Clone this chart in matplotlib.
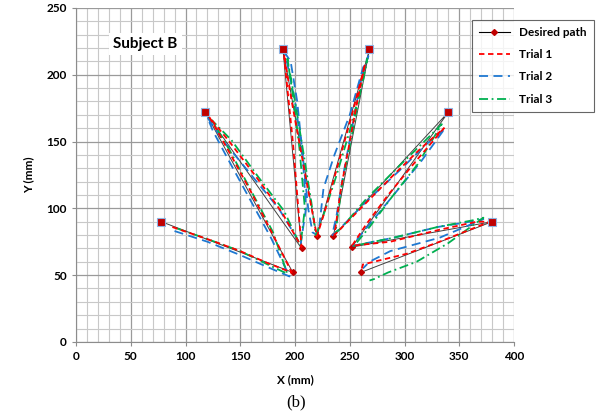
import matplotlib
matplotlib.use("Agg")
import matplotlib.pyplot as plt
from matplotlib.ticker import MultipleLocator
from matplotlib.lines import Line2D

plt.rcParams["font.family"] = ["Lato", "DejaVu Sans"]

# desired zig-zag path: outer targets and inner points
desired_x = [78, 198, 118, 206, 189, 220, 268, 235, 340, 252, 380, 260]
desired_y = [90, 52, 172, 70, 219, 79, 219, 79, 172, 71, 90, 52]
target_x = [78, 118, 189, 268, 340, 380]
target_y = [90, 172, 219, 219, 172, 90]

trial1_x = [88, 120, 150, 175, 197, 180, 160, 140, 122, 140, 165, 188, 206,
            203, 198, 193, 190, 197, 206, 214, 220, 228, 240, 252, 264,
            258, 250, 242, 236, 260, 290, 315, 336, 310, 285, 265, 252,
            287, 332, 366, 378, 332, 302, 272, 262, 261]
trial1_y = [86, 77, 68, 59, 52, 80, 112, 142, 168, 150, 123, 97, 71,
            100, 150, 190, 215, 180, 140, 105, 79, 100, 135, 170, 208,
            185, 150, 115, 80, 100, 125, 145, 160, 135, 110, 88, 72,
            75, 84, 90, 90, 75, 66, 60, 58, 55]

trial2_x = [90, 120, 150, 175, 195, 178, 158, 138, 125, 120, 135, 160, 185, 200, 205,
            210, 207, 202, 196, 191, 200, 207, 212, 216, 220, 222, 226, 236, 250, 262, 267,
            260, 252, 244, 238, 234, 240, 265, 295, 320, 337, 315, 290, 270, 255,
            253, 290, 330, 360, 372, 332, 287, 268, 262]
trial2_y = [83, 75, 65, 56, 49, 78, 108, 138, 158, 168, 150, 125, 100, 80, 72,
            100, 140, 180, 210, 216, 180, 140, 100, 82, 80, 85, 115, 140, 170, 205, 214,
            195, 160, 125, 95, 80, 84, 105, 128, 148, 160, 135, 110, 90, 75,
            72, 78, 86, 90, 92, 78, 68, 60, 55]

trial3_x = [92, 120, 150, 175, 193, 180, 160, 140, 124, 142, 166, 190, 205,
            209, 204, 198, 193, 200, 208, 215, 219, 226, 238, 250, 262, 266,
            260, 252, 243, 237, 242, 265, 293, 318, 334, 312, 288, 268, 254,
            290, 330, 362, 372, 340, 311, 285, 272, 268]
trial3_y = [85, 77, 68, 58, 51, 82, 113, 144, 166, 151, 124, 98, 72,
            100, 145, 185, 212, 180, 140, 104, 80, 95, 125, 158, 195, 212,
            190, 155, 118, 82, 85, 107, 130, 150, 163, 133, 108, 86, 72,
            78, 86, 91, 93, 74, 60, 52, 47, 46]

fig = plt.figure(figsize=(5.96, 4.17), dpi=100)
ax = fig.add_axes([0.1275, 0.180, 0.735, 0.801])

ax.set_xlim(0, 400)
ax.set_ylim(0, 250)
ax.xaxis.set_major_locator(MultipleLocator(50))
ax.yaxis.set_major_locator(MultipleLocator(50))
ax.xaxis.set_minor_locator(MultipleLocator(10))
ax.yaxis.set_minor_locator(MultipleLocator(10))
ax.grid(True, which="minor", color="#c8c8c8", lw=0.8)
ax.grid(True, which="major", color="#9a9a9a", lw=0.9)
ax.set_axisbelow(True)
for s in ["top", "right"]:
    ax.spines[s].set_visible(False)
for s in ["left", "bottom"]:
    ax.spines[s].set_color("#8c8c8c")
ax.tick_params(which="major", length=3, color="#8c8c8c", labelsize=8.5)
ax.tick_params(which="minor", length=0)
for lab in ax.get_xticklabels() + ax.get_yticklabels():
    lab.set_fontweight("bold")

ax.plot(desired_x, desired_y, color="#404040", lw=0.7, marker="D", ms=3,
        mfc="#c00000", mec="#c00000", zorder=3)
ax.plot(trial2_x, trial2_y, color="#1f78d1", lw=1.3, dashes=(5, 3), zorder=4)
ax.plot(trial3_x, trial3_y, color="#00b050", lw=1.3, dashes=(5, 2, 1, 2), zorder=5)
ax.plot(trial1_x, trial1_y, color="#ff0000", lw=1.3, dashes=(3, 2), zorder=6)
ax.plot(target_x, target_y, ls="none", marker="s", ms=5.5, mfc="#c00000",
        mec="#8eb4e3", mew=0.8, zorder=7)

ax.text(0.085, 0.893, "Subject B", transform=ax.transAxes, fontsize=11,
        fontweight="bold", va="center", ha="left",
        bbox=dict(facecolor="white", edgecolor="none", pad=3))

ax.set_xlabel("X (mm)", fontsize=8.5, fontweight="bold", labelpad=9)
ax.set_ylabel("Y (mm)", fontsize=8.5, fontweight="bold", labelpad=9)

handles = [
    Line2D([], [], color="black", lw=0.8, marker="D", ms=3, mfc="#c00000", mec="#c00000"),
    Line2D([], [], color="#ff0000", lw=1.3, dashes=(3, 2)),
    Line2D([], [], color="#1f78d1", lw=1.3, dashes=(5, 3)),
    Line2D([], [], color="#00b050", lw=1.3, dashes=(5, 2, 1, 2)),
]
leg = fig.legend(handles, ["Desired path", "Trial 1", "Trial 2", "Trial 3"],
                 loc="upper left", bbox_to_anchor=(466 / 596, 1 - 14 / 417),
                 frameon=True, fancybox=False, edgecolor="#404040",
                 prop={"weight": "bold", "size": 8.5}, handlelength=2.6,
                 labelspacing=0.95, borderpad=0.6)
leg.get_frame().set_linewidth(0.8)

fig.text(0.497, 0.035, "(b)", family="Liberation Serif", fontsize=12,
         ha="center", va="center")

fig.savefig("out.png", dpi=100)
